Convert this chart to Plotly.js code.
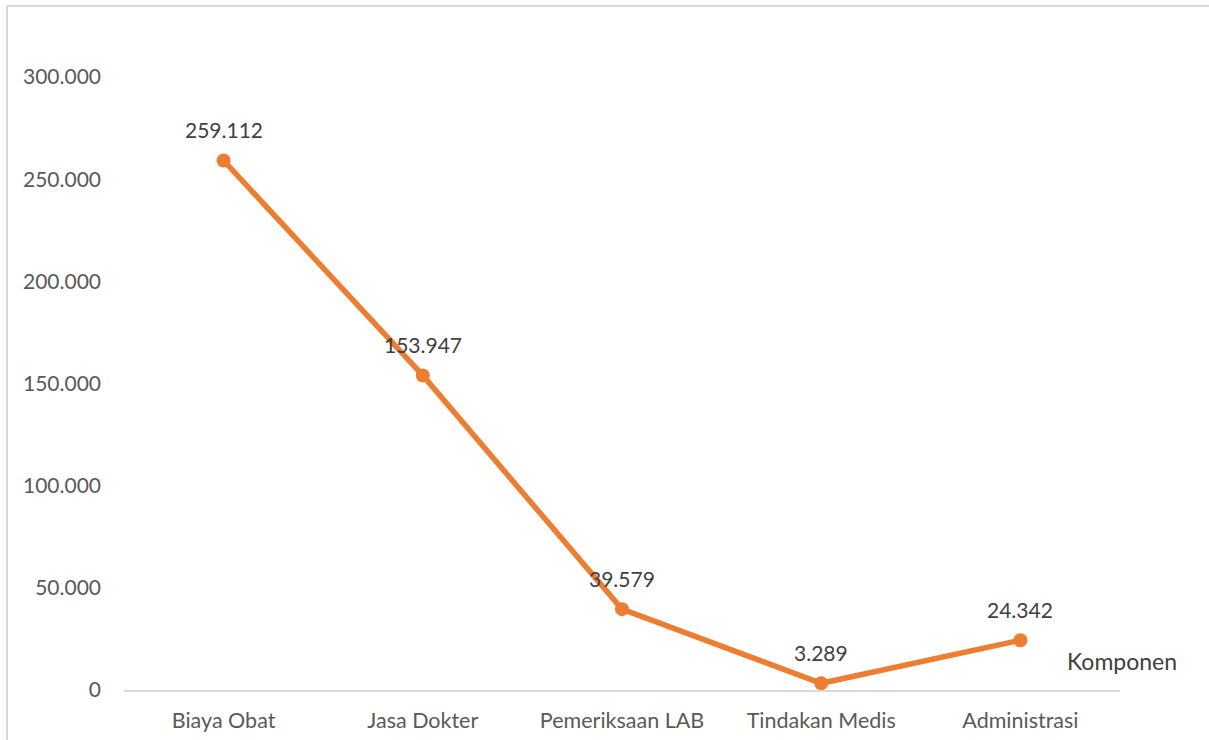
<!DOCTYPE html>
<html>
<head>
<meta charset="utf-8">
<script src="https://cdn.plot.ly/plotly-3.0.1.min.js"></script>
<style>
  html, body { margin: 0; padding: 0; background: #fff; }
  #chart { position: absolute; left: 0; top: 0; width: 1209px; height: 740px; }
  #frame { position: absolute; left: 6px; top: 5px; width: 1210px; height: 760px; border: 2px solid #d9d9d9; box-sizing: border-box; pointer-events: none; }
</style>
</head>
<body>
<div id="chart"></div>
<div id="frame"></div>
<script>
const categories = ["Biaya Obat", "Jasa Dokter", "Pemeriksaan LAB", "Tindakan Medis", "Administrasi"];
const values = [259112, 153947, 39579, 3289, 24342];
const yTickVals = [0, 50000, 100000, 150000, 200000, 250000, 300000];
const xAxisTitle = "Komponen";

const fontFam = "Lato, 'Open Sans', sans-serif";

const trace = {
  x: categories,
  y: values,
  type: "scatter",
  mode: "lines+markers",
  line: { color: "#ED7D31", width: 5.5 },
  marker: { color: "#ED7D31", size: 14 },
  hoverinfo: "skip"
};

const annotations = categories.map((c, i) => ({
  x: c, y: values[i], xref: "x", yref: "y",
  text: values[i].toLocaleString("de-DE"),
  showarrow: false, yshift: 31,
  font: { family: fontFam, size: 21, color: "#404040" }
}));
annotations.push({
  xref: "paper", yref: "paper", x: 1.002, y: 0.047,
  xanchor: "center", yanchor: "middle",
  text: xAxisTitle, showarrow: false,
  font: { family: fontFam, size: 23, color: "#404040" }
});

const layout = {
  width: 1209, height: 740,
  margin: { l: 124, r: 89, t: 77, b: 50 },
  paper_bgcolor: "#ffffff", plot_bgcolor: "#ffffff",
  separators: ",.",
  showlegend: false,
  font: { family: fontFam, size: 21, color: "#595959" },
  xaxis: {
    type: "category",
    range: [-0.5, 4.5],
    showgrid: false,
    zeroline: false,
    showline: true,
    linecolor: "#d9d9d9",
    linewidth: 2,
    ticks: "",
    ticklabelstandoff: 10,
    tickfont: { family: fontFam, size: 21.5, color: "#595959" },
    fixedrange: true
  },
  yaxis: {
    range: [0, 300000],
    tickvals: yTickVals,
    tickformat: ",d",
    showgrid: false,
    zeroline: false,
    showline: false,
    ticks: "",
    ticklabelstandoff: 22,
    tickfont: { family: fontFam, size: 21, color: "#595959" },
    fixedrange: true
  },
  annotations: annotations
};

Plotly.newPlot("chart", [trace], layout, { displayModeBar: false, staticPlot: true });
</script>
</body>
</html>
